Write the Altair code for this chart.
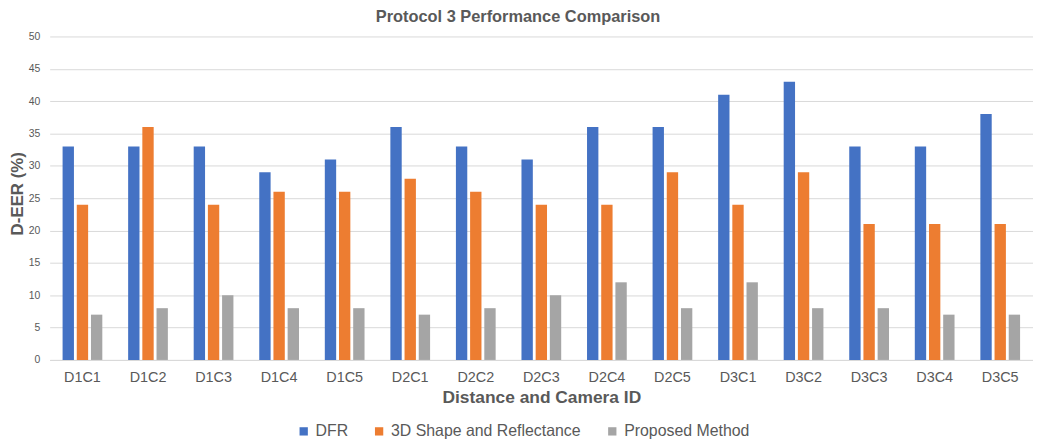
import altair as alt
import pandas as pd

title_text = "Protocol 3 Performance Comparison"
categories = ["D1C1", "D1C2", "D1C3", "D1C4", "D1C5",
              "D2C1", "D2C2", "D2C3", "D2C4", "D2C5",
              "D3C1", "D3C2", "D3C3", "D3C4", "D3C5"]
series_names = ["DFR", "3D Shape and Reflectance", "Proposed Method"]
dfr = [33, 33, 33, 29, 31, 36, 33, 31, 36, 36, 41, 43, 33, 33, 38]
shape3d = [24, 36, 24, 26, 26, 28, 26, 24, 24, 29, 24, 29, 21, 21, 21]
proposed = [7, 8, 10, 8, 8, 7, 8, 10, 12, 8, 12, 8, 8, 7, 7]
colors = ["#4472C4", "#ED7D31", "#A5A5A5"]
y_ticks = [0, 5, 10, 15, 20, 25, 30, 35, 40, 45, 50]

rows = []
for name, vals in zip(series_names, [dfr, shape3d, proposed]):
    for c, v in zip(categories, vals):
        rows.append({"cat": c, "series": name, "value": v})
df = pd.DataFrame(rows)

FONT = "Liberation Sans"
GRAY = "#595959"

bars = alt.Chart(df).mark_bar().encode(
    x=alt.X("cat:N", sort=categories,
            scale=alt.Scale(paddingInner=0.394, paddingOuter=0.197),
            axis=alt.Axis(title="Distance and Camera ID", labelAngle=0,
                          labelFontSize=14.5, labelColor=GRAY, labelFont=FONT,
                          labelPadding=11, ticks=False, domain=True,
                          domainColor="#D9D9D9", domainWidth=1,
                          titleFont=FONT, titleFontSize=17.5, titleFontWeight="bold",
                          titleColor=GRAY, titleY=38, titleBaseline="middle")),
    xOffset=alt.XOffset("series:N", sort=series_names,
                        scale=alt.Scale(paddingInner=0.2)),
    y=alt.Y("value:Q", scale=alt.Scale(domain=[0, 50], nice=False),
            axis=alt.Axis(title="D-EER (%)", values=y_ticks, ticks=False,
                          domain=False, grid=True, gridColor="#D9D9D9",
                          gridWidth=1, labelFontSize=10.5, labelColor=GRAY,
                          labelFont=FONT, labelPadding=10,
                          titleFont=FONT, titleFontSize=17, titleFontWeight="bold",
                          titleColor=GRAY, titleX=-32, titleY=158,
                          titleAngle=270, titleAlign="center",
                          titleBaseline="middle")),
    color=alt.Color("series:N", sort=series_names,
                    scale=alt.Scale(domain=series_names, range=colors),
                    legend=alt.Legend(title=None, orient="none", direction="horizontal",
                                      legendX=248, legendY=390,
                                      symbolType="square", symbolSize=70,
                                      symbolStrokeWidth=0, labelLimit=400,
                                      labelFontSize=16, labelColor=GRAY,
                                      labelFont=FONT, columnPadding=23,
                                      labelOffset=4, padding=0)),
)

title = alt.Chart(pd.DataFrame({"t": [title_text]})).mark_text(
    font=FONT, fontSize=16.5, fontWeight="bold", color=GRAY,
    align="center", baseline="middle"
).encode(
    x=alt.value(472), y=alt.value(-20), text="t:N"
)

chart = alt.layer(bars, title).properties(
    width=991,
    height=326,
    autosize=alt.AutoSizeParams(type="none"),
    padding={"left": 42, "top": 27, "right": 0, "bottom": 79},
).configure_view(stroke=None)

chart.save("out.html", embed_options={"renderer": "svg", "actions": False})
